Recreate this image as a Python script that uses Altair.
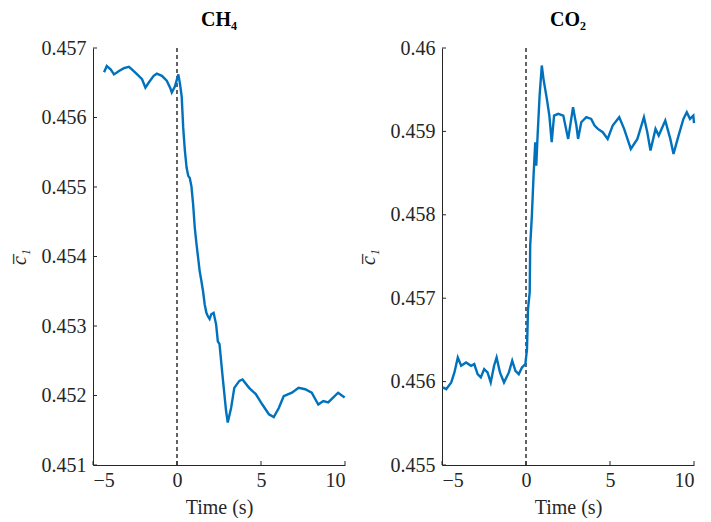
import altair as alt
import pandas as pd

# ---------------- data ----------------
ch4_t = [-4.34, -4.18, -3.94, -3.75, -3.45, -3.16, -2.86, -2.67, -2.37, -2.08,
         -1.88, -1.69, -1.39, -1.2, -0.9, -0.61, -0.41, -0.31, -0.12, 0.02,
         0.08, 0.18, 0.28, 0.37, 0.47, 0.57, 0.67, 0.76, 0.86, 0.96,
         1.06, 1.16, 1.35, 1.45, 1.55, 1.65, 1.75, 1.84, 1.94, 2.04,
         2.18, 2.33, 2.43, 2.53, 2.72, 2.92, 3.02, 3.22, 3.41, 3.71,
         3.9, 4.29, 4.69, 5.08, 5.47, 5.76, 6.06, 6.35, 6.84, 7.24,
         7.63, 8.02, 8.41, 8.71, 9.0, 9.29, 9.59, 9.98]
ch4_v = [0.45665, 0.45674, 0.45669, 0.45662, 0.45667, 0.45671, 0.45673, 0.45669, 0.45662, 0.45655,
         0.45643, 0.4565, 0.4566, 0.45663, 0.4566, 0.45653, 0.45643, 0.45636, 0.45645, 0.45657,
         0.45662, 0.45648, 0.4563, 0.45585, 0.45552, 0.45528, 0.45516, 0.45513, 0.45501, 0.45475,
         0.45441, 0.45418, 0.45379, 0.45365, 0.4535, 0.45331, 0.45319, 0.45314, 0.4531, 0.45317,
         0.45319, 0.45302, 0.45278, 0.45274, 0.45226, 0.45178, 0.45161, 0.45182, 0.45211, 0.45221,
         0.45223, 0.45211, 0.45202, 0.45187, 0.45173, 0.45169, 0.45182, 0.45199, 0.45204, 0.45211,
         0.45209, 0.45204, 0.45187, 0.45192, 0.4519, 0.45197, 0.45204, 0.45197]

co2_t = [-4.94, -4.75, -4.45, -4.26, -4.06, -3.86, -3.57, -3.27, -3.08, -2.88,
         -2.69, -2.49, -2.29, -2.1, -1.9, -1.75, -1.55, -1.31, -1.02, -0.82,
         -0.63, -0.43, -0.24, -0.04, 0.06, 0.12, 0.22, 0.25, 0.35, 0.45,
         0.55, 0.61, 0.69, 0.81, 0.94, 1.04, 1.24, 1.39, 1.53, 1.67,
         1.92, 2.22, 2.51, 2.8, 3.0, 3.1, 3.29, 3.59, 3.88, 4.08,
         4.28, 4.57, 4.86, 5.16, 5.55, 5.84, 6.24, 6.63, 7.02, 7.22,
         7.41, 7.71, 7.9, 8.29, 8.59, 8.78, 9.08, 9.37, 9.57, 9.76,
         9.96, 10.0]
co2_v = [0.45593, 0.45591, 0.45599, 0.45611, 0.45629, 0.45619, 0.45623, 0.45619, 0.45621, 0.45609,
         0.45605, 0.45615, 0.45611, 0.45599, 0.45619, 0.45629, 0.45611, 0.45599, 0.45611, 0.45625,
         0.45613, 0.45609, 0.45617, 0.45621, 0.45639, 0.45687, 0.45707, 0.45763, 0.45799, 0.45847,
         0.45887, 0.45859, 0.45895, 0.45943, 0.45979, 0.45963, 0.45939, 0.45919, 0.45887, 0.45919,
         0.45921, 0.45919, 0.45891, 0.45929, 0.45907, 0.45891, 0.45911, 0.45917, 0.45915, 0.45907,
         0.45903, 0.45899, 0.45891, 0.45907, 0.45917, 0.45903, 0.45879, 0.45891, 0.45917, 0.45899,
         0.45877, 0.45903, 0.45895, 0.45913, 0.45891, 0.45873, 0.45895, 0.45915, 0.45923, 0.45915,
         0.45919, 0.4591]

x_ticks = [-5, 0, 5, 10]
ch4_yticks = [0.451, 0.452, 0.453, 0.454, 0.455, 0.456, 0.457]
co2_yticks = [0.455, 0.456, 0.457, 0.458, 0.459, 0.46]
panel_titles = ["CH\u2084", "CO\u2082"]
x_title = "Time (s)"
y_title = "c\u0305\u2081"
step_time = [0]

# ---------------- styling ----------------
FONT = "Liberation Serif"
BLUE = "#0072BD"
AX = "#262626"
W, H = 252, 417


def panel(t, v, yticks, title):
    df = pd.DataFrame({"t": t, "v": v})
    xs = alt.Scale(domain=[x_ticks[0], x_ticks[-1]], nice=False)
    ys = alt.Scale(domain=[yticks[0], yticks[-1]], nice=False, zero=False)
    x = alt.X("t:Q", scale=xs,
              axis=alt.Axis(values=x_ticks, title=x_title, ticks=False, grid=False,
                            labelPadding=5, titlePadding=7))
    y = alt.Y("v:Q", scale=ys,
              axis=alt.Axis(values=yticks, format=".3~f", title=y_title, ticks=False,
                            grid=False, labelPadding=7, titlePadding=12,
                            titleFontStyle="italic"))
    line = alt.Chart(df).mark_line(color=BLUE, strokeWidth=2.4).encode(x=x, y=y)
    vline = alt.Chart(pd.DataFrame({"t": step_time})).mark_rule(
        color="#111111", strokeDash=[4, 3], strokeWidth=1.3).encode(x=alt.X("t:Q", scale=xs))
    ytk = alt.Chart(pd.DataFrame({"v": yticks})).mark_rule(color=AX, strokeWidth=1).encode(
        y=alt.Y("v:Q", scale=ys), x=alt.value(0), x2=alt.value(4))
    xtk = alt.Chart(pd.DataFrame({"t": x_ticks})).mark_rule(color=AX, strokeWidth=1).encode(
        x=alt.X("t:Q", scale=xs), y=alt.value(H), y2=alt.value(H - 4))
    return alt.layer(vline, line, ytk, xtk).properties(
        width=W, height=H,
        title=alt.TitleParams(title, font=FONT, fontSize=20, fontWeight="bold",
                              color="#000000", anchor="middle", offset=8))


left = panel(ch4_t, ch4_v, ch4_yticks, panel_titles[0])
right = panel(co2_t, co2_v, co2_yticks, panel_titles[1])

chart = alt.hconcat(left, right, spacing=7).properties(
    padding={"left": 0, "top": 1, "right": 0, "bottom": 0},
    background="white",
).configure_view(stroke="transparent").configure_axis(
    domainColor=AX, domainWidth=1,
    labelFont=FONT, labelFontSize=20, labelColor=AX,
    titleFont=FONT, titleFontSize=20, titleFontWeight="normal", titleColor=AX,
)

chart.save("out.html", embed_options={"renderer": "svg", "actions": False})
